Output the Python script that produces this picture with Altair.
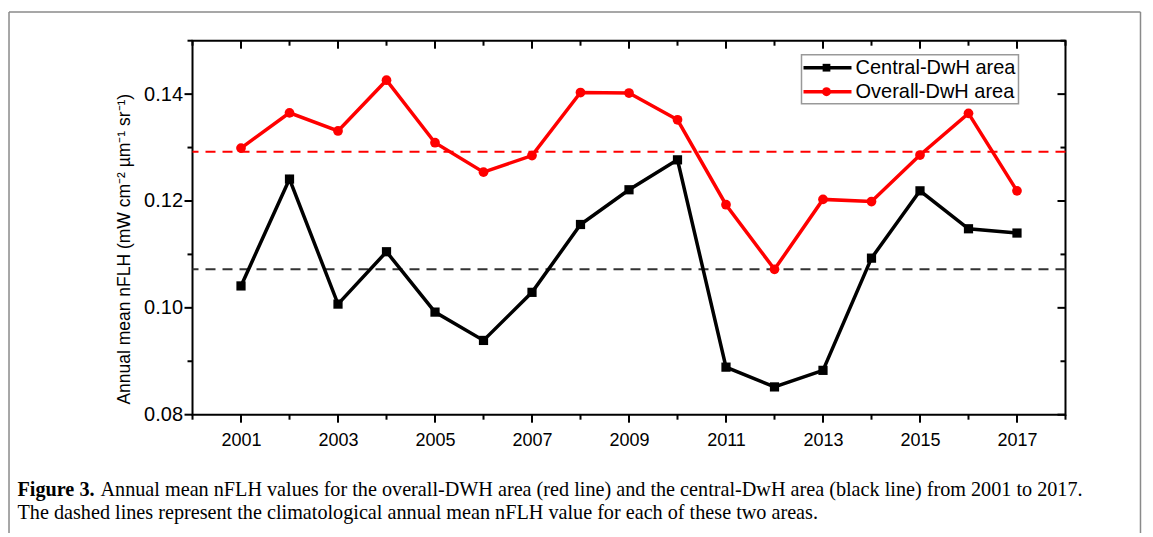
import altair as alt
import pandas as pd

# ---- data ----
years = [2001, 2002, 2003, 2004, 2005, 2006, 2007, 2008, 2009,
         2010, 2011, 2012, 2013, 2014, 2015, 2016, 2017]
central = [0.1041, 0.1241, 0.1007, 0.1105, 0.0992, 0.0939, 0.1029, 0.1156, 0.1221,
           0.1277, 0.0889, 0.0852, 0.0883, 0.1093, 0.1219, 0.1148, 0.1140]
overall = [0.1299, 0.1365, 0.1331, 0.1426, 0.1309, 0.1254, 0.1285, 0.1403, 0.1402,
           0.1352, 0.1193, 0.1072, 0.1203, 0.1199, 0.1286, 0.1364, 0.1219]
central_mean = [0.1072]
overall_mean = [0.1292]

x_major = [2001, 2003, 2005, 2007, 2009, 2011, 2013, 2015, 2017]
x_minor = [2000, 2002, 2004, 2006, 2008, 2010, 2012, 2014, 2016, 2018]
y_major = [0.08, 0.10, 0.12, 0.14]
y_minor = [0.09, 0.11, 0.13, 0.15]

legend_labels = ["Central-DwH area", "Overall-DwH area"]
y_title = "Annual mean nFLH (mW cm\u207b\u00b2 \u00b5m\u207b\u00b9 sr\u207b\u00b9)"
caption_bold = "Figure 3."
caption_1 = ("Annual mean nFLH values for the overall-DWH area (red line) and the "
             "central-DwH area (black line) from 2001 to 2017.")
caption_2 = ("The dashed lines represent the climatological annual mean nFLH value "
             "for each of these two areas.")

W, H = 873, 374
RED = "#ff0000"
FONT = "Liberation Sans"
SERIF = "Liberation Serif"

xs = alt.Scale(domain=[2000, 2018], nice=False, zero=False)
ys = alt.Scale(domain=[0.08, 0.15], nice=False, zero=False)

df = pd.DataFrame({"year": years, "central": central, "overall": overall})

# ---- shared axis definitions (same object in every layer so they merge) ----
x_axis = alt.Axis(values=x_major, format="d", ticks=False, domain=False, grid=False,
                  labelFont=FONT, labelFontSize=18, labelColor="black", labelPadding=17,
                  title=None)
y_axis = alt.Axis(values=y_major, format=".2f", ticks=False, domain=False, grid=False,
                  labelFont=FONT, labelFontSize=20, labelColor="black", labelPadding=10,
                  title=y_title, titleFont=FONT, titleFontSize=17.5, titleFontWeight="normal",
                  titleColor="black", titlePadding=10, titleY=208)


def X(f):
    return alt.X(f, scale=xs, axis=x_axis)


def Y(f):
    return alt.Y(f, scale=ys, axis=y_axis)


central_line = alt.Chart(df).mark_line(color="black", strokeWidth=3.5).encode(
    x=X("year:Q"), y=Y("central:Q"))
central_pts = alt.Chart(df).mark_point(shape="square", filled=True, color="black",
                                       size=85, opacity=1).encode(
    x=X("year:Q"), y=Y("central:Q"))
overall_line = alt.Chart(df).mark_line(color=RED, strokeWidth=3.5).encode(
    x=X("year:Q"), y=Y("overall:Q"))
overall_pts = alt.Chart(df).mark_point(shape="circle", filled=True, color=RED,
                                       size=95, opacity=1).encode(
    x=X("year:Q"), y=Y("overall:Q"))

cm = alt.Chart(pd.DataFrame({"v": central_mean})).mark_rule(
    color="#333333", strokeWidth=2, strokeDash=[10, 7]).encode(y=Y("v:Q"))
om = alt.Chart(pd.DataFrame({"v": overall_mean})).mark_rule(
    color=RED, strokeWidth=2, strokeDash=[10, 7]).encode(y=Y("v:Q"))

# ---- tick marks ----
xmaj = pd.DataFrame({"t": x_major})
xmin = pd.DataFrame({"t": x_minor})
ymaj = pd.DataFrame({"t": y_major})
ymin = pd.DataFrame({"t": y_minor})


def xticks(d, y0, y1):
    return alt.Chart(d).mark_rule(color="black", strokeWidth=2).encode(
        x=X("t:Q"), y=alt.value(y0), y2=alt.value(y1))


def yticks(d, x0, x1):
    return alt.Chart(d).mark_rule(color="black", strokeWidth=2).encode(
        y=Y("t:Q"), x=alt.value(x0), x2=alt.value(x1))


ticks = [
    xticks(xmaj, H, H + 8), xticks(xmin, H, H + 5),
    xticks(xmaj, 0, 8), xticks(xmin, 0, 5),
    yticks(ymaj, -8, 0), yticks(ymin, -5, 0),
    yticks(ymaj, W - 8, W), yticks(ymin, W - 5, W),
]

# ---- legend (drawn by hand) ----
one = pd.DataFrame({"a": [0]})
LX0, LX1, LY0, LY1 = 609, 826, 14, 63
legend_box = alt.Chart(one).mark_rect(fill="white", stroke="#999999", strokeWidth=1.5).encode(
    x=alt.value(LX0), x2=alt.value(LX1), y=alt.value(LY0), y2=alt.value(LY1))
rows = [27, 51]
leg = []
for r, col, shape, sz in [(rows[0], "black", "square", 60), (rows[1], RED, "circle", 80)]:
    leg.append(alt.Chart(one).mark_rule(color=col, strokeWidth=3.5).encode(
        x=alt.value(LX0 + 2), x2=alt.value(LX0 + 50), y=alt.value(r)))
    leg.append(alt.Chart(one).mark_point(shape=shape, filled=True, color=col, size=sz,
                                         opacity=1).encode(
        x=alt.value(LX0 + 25), y=alt.value(r)))
for r, lab in zip(rows, legend_labels):
    leg.append(alt.Chart(pd.DataFrame({"s": [lab]})).mark_text(
        font=FONT, fontSize=20, align="left", baseline="middle", color="black").encode(
        text="s:N", x=alt.value(LX0 + 54), y=alt.value(r)))

# ---- caption and outer frame ----
CF = 20.2
cap = [
    alt.Chart(pd.DataFrame({"s": [caption_bold]})).mark_text(
        font=SERIF, fontSize=CF, fontWeight="bold", align="left", baseline="middle",
        color="black").encode(text="s:N", x=alt.value(-175), y=alt.value(449)),
    alt.Chart(pd.DataFrame({"s": [caption_1]})).mark_text(
        font=SERIF, fontSize=CF, align="left", baseline="middle",
        color="black").encode(text="s:N", x=alt.value(-92), y=alt.value(449)),
    alt.Chart(pd.DataFrame({"s": [caption_2]})).mark_text(
        font=SERIF, fontSize=CF, align="left", baseline="middle",
        color="black").encode(text="s:N", x=alt.value(-175), y=alt.value(472)),
]
frame = [
    alt.Chart(one).mark_rule(color="#8a8a8a", strokeWidth=1.5).encode(
        x=alt.value(-183.5), y=alt.value(-28.7), y2=alt.value(H + 130)),
    alt.Chart(one).mark_rule(color="#8a8a8a", strokeWidth=1.5).encode(
        x=alt.value(-183.5), x2=alt.value(948), y=alt.value(-28.7)),
    alt.Chart(one).mark_rule(color="#8a8a8a", strokeWidth=1.5).encode(
        x=alt.value(948), y=alt.value(-28.7), y2=alt.value(H + 130)),
]

chart = alt.layer(
    cm, om, central_line, overall_line, central_pts, overall_pts,
    *ticks, legend_box, *leg, *cap, *frame,
).properties(
    width=W, height=H,
    background="white",
    autosize=alt.AutoSizeParams(type="none"),
    padding={"left": 184.5, "top": 32.7, "right": 78, "bottom": 118},
).configure_view(stroke="black", strokeWidth=2)

chart.save("out.html", embed_options={"renderer": "svg", "actions": False})
